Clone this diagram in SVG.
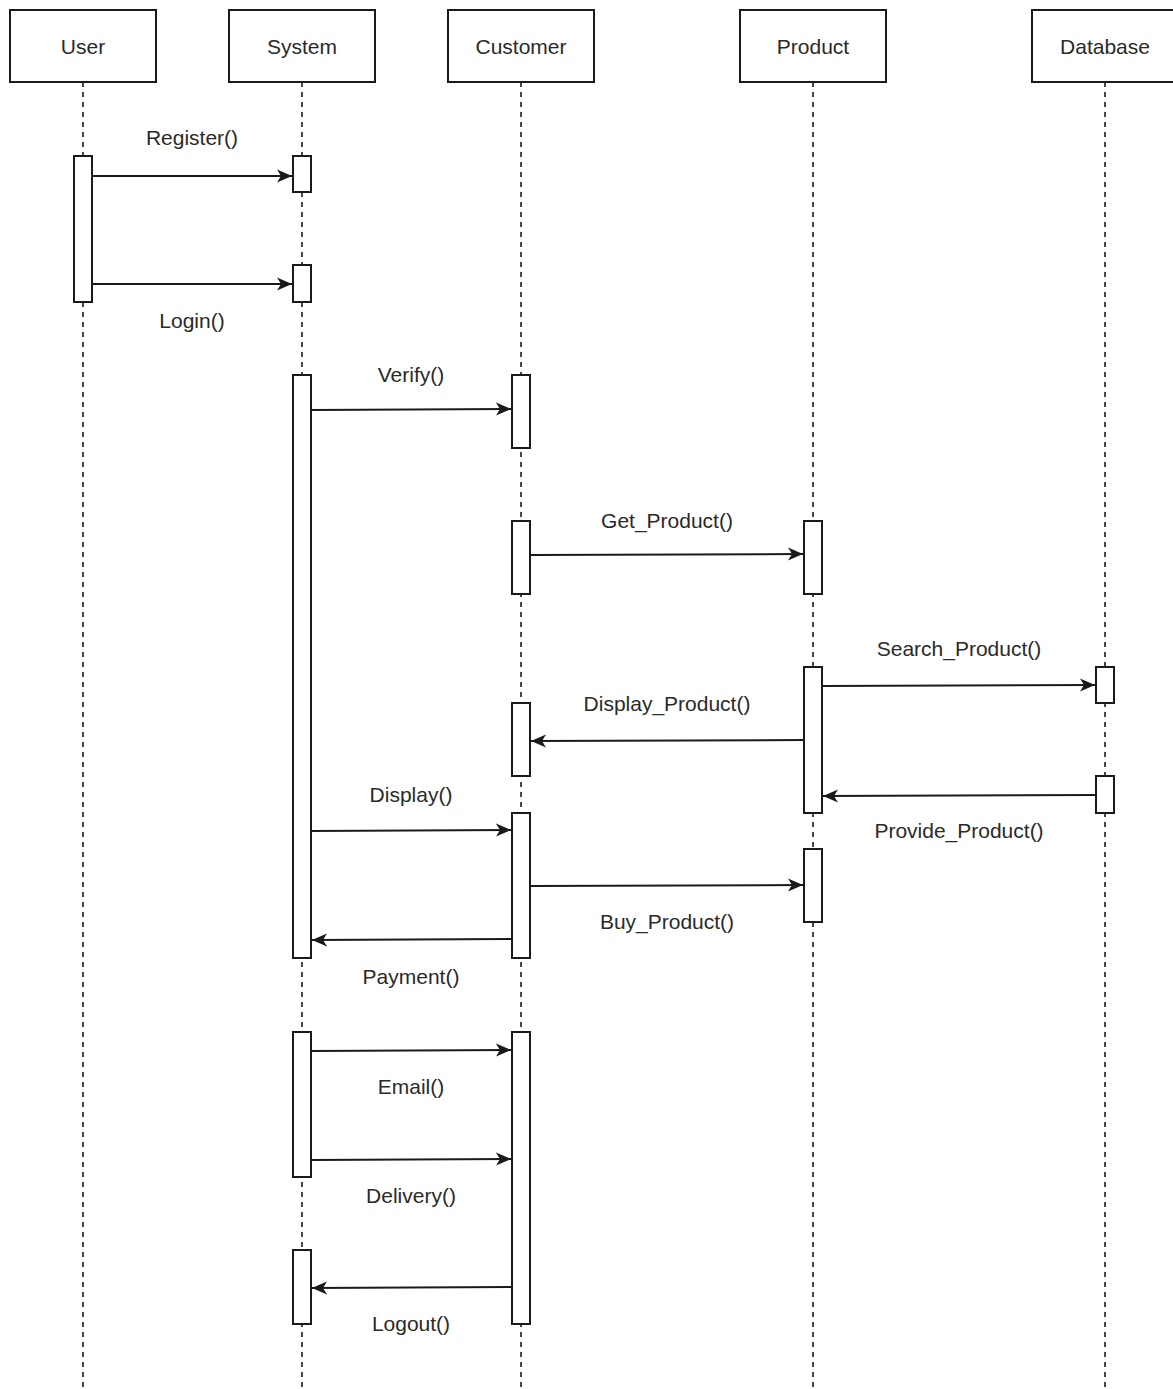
<svg xmlns="http://www.w3.org/2000/svg" width="1173" height="1389" viewBox="0 0 1173 1389">
<style>
.box{fill:#fff;stroke:#1a1a1a;stroke-width:2}
.bar{fill:#fff;stroke:#1a1a1a;stroke-width:2}
.life{stroke:#1a1a1a;stroke-width:1.6;stroke-dasharray:5 5;fill:none}
.msg{stroke:#1a1a1a;stroke-width:2;fill:none;marker-end:url(#arr)}
text{font-family:"Liberation Sans",Arial,sans-serif;font-size:21px;fill:#2a2a2a;text-anchor:middle}
</style>
<defs>
<marker id="arr" markerUnits="userSpaceOnUse" markerWidth="17" markerHeight="14" refX="15" refY="7" orient="auto">
<path d="M0,0.5 L15,7 L0,13.5 L4,7 Z" fill="#1a1a1a"/>
</marker>
</defs>
<rect width="1173" height="1389" fill="#fff"/>
<g id="lifelines">
<line class="life" x1="83" y1="82" x2="83" y2="1389"/>
<line class="life" x1="302" y1="82" x2="302" y2="1389"/>
<line class="life" x1="521" y1="82" x2="521" y2="1389"/>
<line class="life" x1="813" y1="82" x2="813" y2="1389"/>
<line class="life" x1="1105" y1="82" x2="1105" y2="1389"/>
</g>
<g id="user"><rect class="box" x="10" y="10" width="146" height="72"/><text x="83" y="54">User</text></g>
<g id="system"><rect class="box" x="229" y="10" width="146" height="72"/><text x="302" y="54">System</text></g>
<g id="customer"><rect class="box" x="448" y="10" width="146" height="72"/><text x="521" y="54">Customer</text></g>
<g id="product"><rect class="box" x="740" y="10" width="146" height="72"/><text x="813" y="54">Product</text></g>
<g id="database"><rect class="box" x="1032" y="10" width="146" height="72"/><text x="1105" y="54">Database</text></g>
<g id="activations">
<rect class="bar" x="74" y="156" width="18" height="146"/>
<rect class="bar" x="293" y="156" width="18" height="36"/>
<rect class="bar" x="293" y="265" width="18" height="37"/>
<rect class="bar" x="293" y="375" width="18" height="583"/>
<rect class="bar" x="512" y="375" width="18" height="73"/>
<rect class="bar" x="512" y="521" width="18" height="73"/>
<rect class="bar" x="804" y="521" width="18" height="73"/>
<rect class="bar" x="804" y="667" width="18" height="146"/>
<rect class="bar" x="1096" y="667" width="18" height="36"/>
<rect class="bar" x="512" y="703" width="18" height="73"/>
<rect class="bar" x="1096" y="776" width="18" height="37"/>
<rect class="bar" x="512" y="813" width="18" height="145"/>
<rect class="bar" x="804" y="849" width="18" height="73"/>
<rect class="bar" x="293" y="1032" width="18" height="145"/>
<rect class="bar" x="512" y="1032" width="18" height="292"/>
<rect class="bar" x="293" y="1250" width="18" height="74"/>
</g>
<g id="connectors">
<line class="msg" x1="92" y1="176" x2="292" y2="176"/>
<line class="msg" x1="92" y1="284" x2="292" y2="284"/>
<line class="msg" x1="311" y1="410" x2="511" y2="409"/>
<line class="msg" x1="530" y1="555" x2="803" y2="554"/>
<line class="msg" x1="822" y1="686" x2="1095" y2="685"/>
<line class="msg" x1="804" y1="740" x2="531" y2="741"/>
<line class="msg" x1="1096" y1="795" x2="823" y2="796"/>
<line class="msg" x1="311" y1="831" x2="511" y2="830"/>
<line class="msg" x1="530" y1="886" x2="803" y2="885"/>
<line class="msg" x1="512" y1="939" x2="312" y2="940"/>
<line class="msg" x1="311" y1="1051" x2="511" y2="1050"/>
<line class="msg" x1="311" y1="1160" x2="511" y2="1159"/>
<line class="msg" x1="512" y1="1287" x2="312" y2="1288"/>
</g>
<g id="labels">
<text x="192" y="145">Register()</text>
<text x="192" y="328">Login()</text>
<text x="411" y="382">Verify()</text>
<text x="667" y="528">Get_Product()</text>
<text x="959" y="656">Search_Product()</text>
<text x="667" y="711">Display_Product()</text>
<text x="411" y="802">Display()</text>
<text x="959" y="838">Provide_Product()</text>
<text x="667" y="929">Buy_Product()</text>
<text x="411" y="984">Payment()</text>
<text x="411" y="1094">Email()</text>
<text x="411" y="1203">Delivery()</text>
<text x="411" y="1331">Logout()</text>
</g>
</svg>
